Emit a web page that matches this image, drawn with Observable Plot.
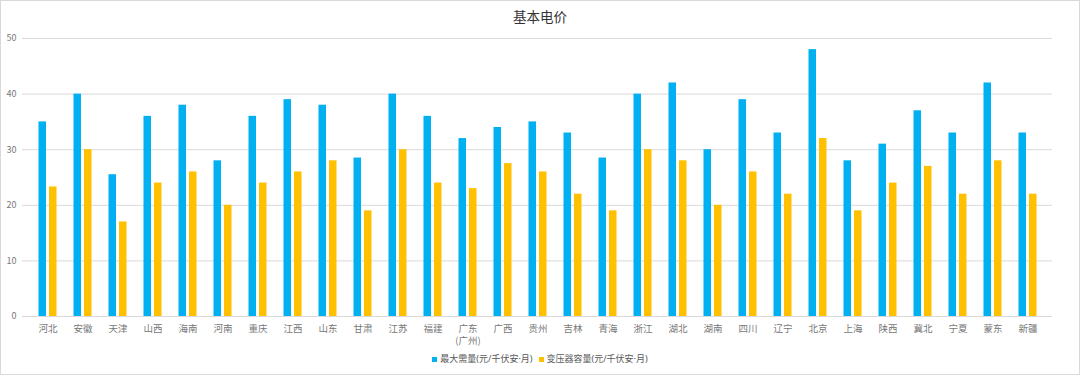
<!DOCTYPE html>
<html>
<head>
<meta charset="utf-8">
<script src="https://cdn.jsdelivr.net/npm/d3@7"></script>
<script src="https://cdn.jsdelivr.net/npm/@observablehq/plot@0.6"></script>
<style>
  html, body { margin: 0; padding: 0; background: #fff; }
  #wrap { position: relative; width: 1080px; height: 375px; font-family: "Noto Sans CJK SC", "Noto Sans", sans-serif; overflow: hidden; }
  #border { position: absolute; left: 0; top: 0; right: 0; bottom: 0; border: 1px solid #d9d9d9; pointer-events: none; }
  #title { height: 30px; line-height: 32px; text-align: center; font-size: 13.5px; color: #333; }
  #legend { position: absolute; top: 352px; left: 0; width: 1080px; text-align: center; font-size: 9px; color: #595959; font-family: "Noto Sans", "Noto Sans CJK SC", sans-serif; }
  #legend span.item { display: inline-block; margin: 0 3px; }
  #legend span.sw { display: inline-block; width: 5px; height: 5px; margin-right: 3px; vertical-align: 0px; }
</style>
</head>
<body>
<div id="wrap">
  <div id="title">基本电价</div>
  <div id="chart"></div>
  <div id="legend"></div>
  <div id="border"></div>
</div>
<script>
const provinces = ["河北","安徽","天津","山西","海南","河南","重庆","江西","山东","甘肃","江苏","福建","广东\n(广州)","广西","贵州","吉林","青海","浙江","湖北","湖南","四川","辽宁","北京","上海","陕西","冀北","宁夏","蒙东","新疆"];
const maxDemand = [35,40,25.5,36,38,28,36,39,38,28.5,40,36,32,34,35,33,28.5,40,42,30,39,33,48,28,31,37,33,42,33];
const transformerCap = [23.3,30,17,24,26,20,24,26,28,19,30,24,23,27.5,26,22,19,30,28,20,26,22,32,19,24,27,22,28,22];
const seriesNames = ["最大需量(元/千伏安·月)","变压器容量(元/千伏安·月)"];
const seriesColors = ["#00B0F0","#FFC000"];
const yTicks = [0,10,20,30,40,50];

const blue = provinces.map((p, i) => ({p, v: maxDemand[i]}));
const yellow = provinces.map((p, i) => ({p, v: transformerCap[i]}));

const chart = Plot.plot({
  width: 1080,
  height: 320,
  marginTop: 8,
  marginBottom: 34,
  marginLeft: 22,
  marginRight: 28,
  style: {fontFamily: '"Noto Sans CJK SC", "Noto Sans", sans-serif', background: "transparent"},
  x: {domain: provinces, padding: 0, label: null},
  y: {domain: [0, 50], label: null},
  marks: [
    Plot.gridY(yTicks, {stroke: "#d9d9d9", strokeOpacity: 1}),
    Plot.axisY(yTicks, {tickSize: 0, tickPadding: 6, fontSize: 9, fill: "#777", label: null}),
    Plot.axisX({tickSize: 0, tickPadding: 7, fontSize: 9.5, fill: "#777", lineHeight: 1.25, label: null}),
    Plot.barY(blue, {x: "p", y: "v", fill: seriesColors[0], insetLeft: 8.5, insetRight: 19}),
    Plot.barY(yellow, {x: "p", y: "v", fill: seriesColors[1], insetLeft: 19, insetRight: 8.5}),
    Plot.ruleY([0], {stroke: "#d9d9d9"})
  ]
});
document.getElementById("chart").appendChild(chart);

const legend = document.getElementById("legend");
seriesNames.forEach((name, i) => {
  const item = document.createElement("span");
  item.className = "item";
  const sw = document.createElement("span");
  sw.className = "sw";
  sw.style.background = seriesColors[i];
  item.appendChild(sw);
  item.appendChild(document.createTextNode(name));
  legend.appendChild(item);
});
</script>
</body>
</html>
